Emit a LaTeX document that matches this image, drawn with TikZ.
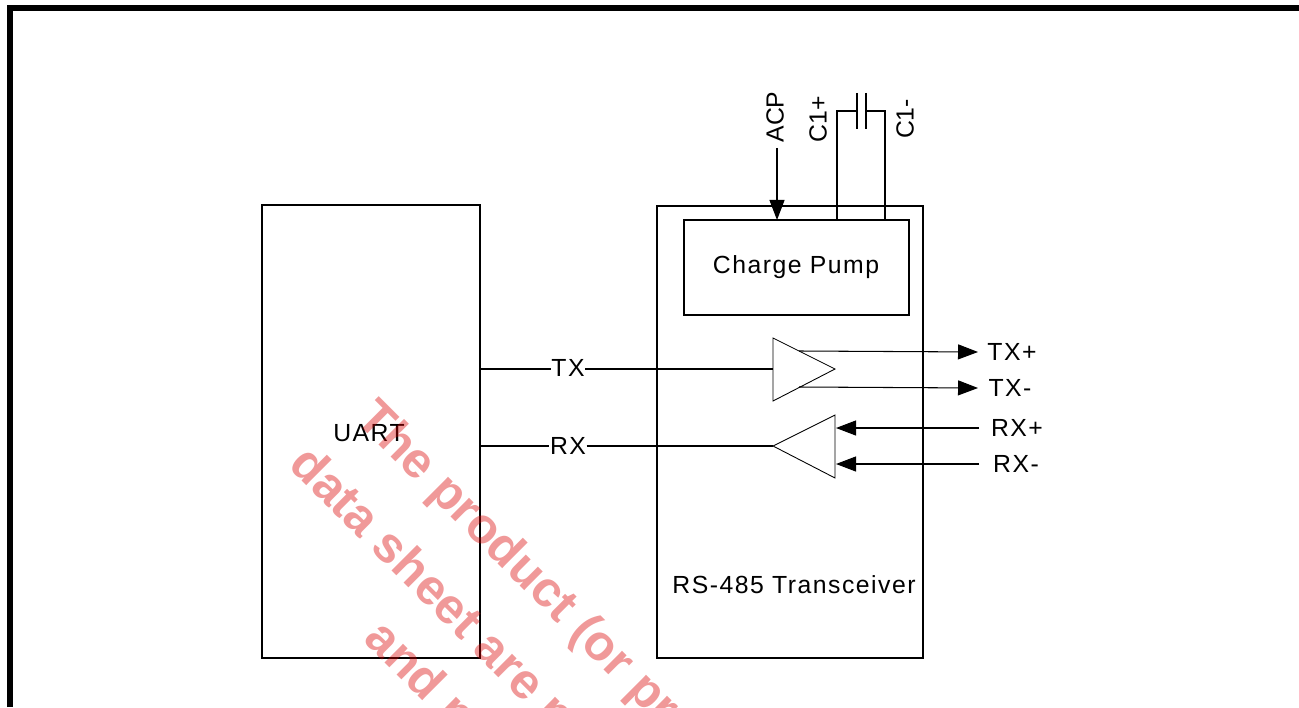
\documentclass[tikz,border=0pt]{standalone}
\usepackage{fontspec}
\setmainfont{Liberation Sans}[LetterSpace=6]
\newfontfamily\stampfont{Liberation Sans}
\usetikzlibrary{arrows.meta}
\tikzset{
    block/.style={draw, line width=0.3pt},
    wire/.style={line width=0.3pt},
    sig/.style={wire, -{Triangle[length=0.2cm, width=0.15cm]}},
    lbl/.style={inner sep=0pt, font=\fontsize{7.05}{8}\selectfont},
    pinlbl/.style={inner sep=0pt, rotate=90, font=\fontsize{7.05}{8}\selectfont\stampfont},
    stamp/.style={rotate=-45, anchor=base west, inner sep=0pt, text=red!85!black, text opacity=0.4,
        font=\fontsize{14.2}{16}\selectfont\stampfont\bfseries},
}
\begin{document}
\begin{tikzpicture}[x=0.1mm, y=-0.1mm]
    \useasboundingbox (0, 0) rectangle (1299, 707);
    % frame
    \draw[line width=0.06cm] (10, 707) -- (10, 8) -- (1299, 8);
    % blocks
    \draw[block] (262, 205) rectangle (480, 658);
    \draw[block] (657, 206) rectangle (923, 658);
    \draw[block] (684, 220) rectangle (909, 315);
    \node[lbl] (uart) at (369, 433) {UART};
    \node[lbl] (xcvr) at (794, 585) {RS-485 Transceiver};
    \node[lbl] (pump) at (796, 267) {Charge Pump};
    % driver
    \coordinate (drvin) at (773, 369);
    \coordinate (drvp) at (799, 351);
    \coordinate (drvm) at (799, 387);
    \draw[block, line width=0.25pt] (773, 338) -- (835, 369) -- (773, 401) -- cycle;
    % receiver
    \coordinate (rcvout) at (773, 446);
    \coordinate (rcvp) at (836, 428);
    \coordinate (rcvm) at (836, 464);
    \draw[block, line width=0.25pt] (773, 446) -- (835, 415) -- (835, 478) -- cycle;
    % tx, rx to uart
    \coordinate (uarttx) at (480, 369);
    \coordinate (uartrx) at (480, 446);
    \node[lbl] (tx) at (568, 368) {TX};
    \node[lbl] (rx) at (568, 446) {RX};
    \draw[wire] (uarttx) -- (uarttx -| tx.west);
    \draw[wire] (drvin -| tx.east) -- (drvin);
    \draw[wire] (uartrx) -- (rx);
    \draw[wire] (rx) -- (rcvout);
    % bus pins
    \node[lbl] (txp) at (1012, 352) {TX+};
    \node[lbl] (txm) at (1010, 388) {TX-};
    \node[lbl] (rxp) at (1017, 428) {RX+};
    \node[lbl] (rxm) at (1016, 464) {RX-};
    \coordinate (txpend) at (978, 352);
    \coordinate (txmend) at (978, 388);
    \coordinate (rxpend) at (979, 428);
    \coordinate (rxmend) at (979, 464);
    \draw[sig] (drvp) -- (txpend);
    \draw[sig] (drvm) -- (txmend);
    \draw[sig] (rxpend) -- (rcvp);
    \draw[sig] (rxmend) -- (rcvm);
    % pump pins
    \node[pinlbl] (acp) at (775, 117) {ACP};
    \node[pinlbl] (cp) at (818, 119) {C1+};
    \node[pinlbl] (cm) at (905, 119) {C1-};
    \coordinate (acpend) at (777, 148);
    \coordinate (acppin) at (777, 220);
    \draw[sig] (acpend) -- (acppin);
    % capacitor
    \draw[wire] (837, 220) -- (837, 111) -- (857, 111);
    \draw[wire] (885, 220) -- (885, 111) -- (866, 111);
    \draw[wire] (857, 93) -- (857, 129);
    \draw[wire] (866, 93) -- (866, 129);
    % stamp
    \begin{scope}
        \clip (0, 0) rectangle (1299, 707);
        \node[stamp] (line1) at (354, 420) {The product (or pr};
        \node[stamp] (line2) at (287, 466) {data sheet are no};
        \node[stamp] (line3) at (362, 640) {and no};
    \end{scope}
\end{tikzpicture}
\end{document}
